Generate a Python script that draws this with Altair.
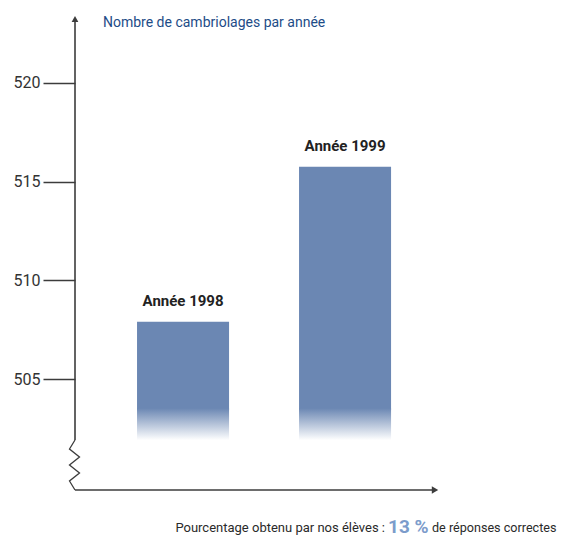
import altair as alt
import pandas as pd

# ---- data ----
years = ["Année 1998", "Année 1999"]
burglaries = [507.9, 515.75]
tick_values = [505, 510, 515, 520]
y_title = ["Nombre de cambriolages par année"]
caption_left = ["Pourcentage obtenu par nos élèves :"]
caption_pct = ["13 %"]
caption_right = ["de réponses correctes"]

# ---- layout / style constants ----
Y_MIN, Y_MAX = 499.39, 523.43
AXIS_TOP = 523.28
FADE_TOP, FADE_END = 503.53, 501.91
BREAK_TOP = 501.92
W, H = 365, 475
FONT = "Roboto"
BAR = "#6b87b3"
AXIS = "#3c3c3c"

# zig-zag break (pixel x offsets from the axis, y in data units)
zig_x = [0, -5.5, 4.5, -5.5, 4.5, -5.5, 0]
zig_y = [501.92, 501.465, 501.06, 500.655, 500.25, 499.845, Y_MIN]

df = pd.DataFrame({"year": years, "value": burglaries})

yscale = alt.Scale(domain=[Y_MIN, Y_MAX], zero=False, nice=False)
xscale = alt.Scale(domain=years, paddingInner=0.432, paddingOuter=0.3425, align=0.559)
xenc = alt.X("year:N", scale=xscale, axis=None)

solid = alt.Chart(df).mark_bar(color=BAR).encode(
    x=xenc,
    y=alt.Y(
        "value:Q",
        scale=yscale,
        axis=alt.Axis(
            values=tick_values, domain=False, grid=False, ticks=True,
            tickSize=32, tickColor=AXIS, tickWidth=1.5, labelPadding=3,
            labelFont=FONT, labelFontSize=16, labelColor="#333333", title=None,
        ),
    ),
    y2=alt.datum(FADE_TOP - 0.1),
)

fade = alt.Chart(df).mark_bar(
    color=alt.Gradient(
        gradient="linear",
        stops=[
            alt.GradientStop(color=BAR, offset=0),
            alt.GradientStop(color="#ffffff", offset=1),
        ],
        x1=0, x2=0, y1=0, y2=1,
    )
).encode(
    x=xenc,
    y=alt.datum(FADE_TOP),
    y2=alt.datum(FADE_END),
)

labels = alt.Chart(df).mark_text(
    font=FONT, fontSize=15, fontWeight="bold", dy=-21, color="#222222", baseline="middle"
).encode(x=xenc, y="value:Q", text="year:N")

one = pd.DataFrame({"k": [0]})

vline = alt.Chart(one).mark_rule(color=AXIS, strokeWidth=1.6).encode(
    x=alt.value(0), y=alt.datum(AXIS_TOP), y2=alt.datum(BREAK_TOP)
)
top_arrow = alt.Chart(one).mark_point(
    shape="triangle-up", filled=True, color=AXIS, size=45, opacity=1
).encode(x=alt.value(0), y=alt.value(4))

zig = alt.Chart(pd.DataFrame({"zx": zig_x, "zy": zig_y, "o": range(len(zig_x))})).mark_line(
    color=AXIS, strokeWidth=1.3
).encode(
    x=alt.X("zx:Q", scale=None),
    y=alt.Y("zy:Q"),
    order="o:Q",
)

hline = alt.Chart(one).mark_rule(color=AXIS, strokeWidth=1.6).encode(
    x=alt.value(0), x2=alt.value(W - 6), y=alt.datum(Y_MIN)
)
right_arrow = alt.Chart(one).mark_point(
    shape="triangle-right", filled=True, color=AXIS, size=55, opacity=1
).encode(x=alt.value(W - 5), y=alt.datum(Y_MIN))

title = alt.Chart(pd.DataFrame({"t": y_title})).mark_text(
    font=FONT, fontSize=14, color="#1d4c87", align="left", baseline="middle"
).encode(text="t:N", x=alt.value(28), y=alt.value(8))

cap1 = alt.Chart(pd.DataFrame({"t": caption_left})).mark_text(
    font=FONT, fontSize=13, color="#2a2a2a", align="right", baseline="middle"
).encode(text="t:N", x=alt.value(310), y=alt.value(513))
cap2 = alt.Chart(pd.DataFrame({"t": caption_pct})).mark_text(
    font=FONT, fontSize=19, fontWeight="bold", color="#7c9ccb", align="left", baseline="middle"
).encode(text="t:N", x=alt.value(313), y=alt.value(512))
cap3 = alt.Chart(pd.DataFrame({"t": caption_right})).mark_text(
    font=FONT, fontSize=12.6, color="#2a2a2a", align="left", baseline="middle"
).encode(text="t:N", x=alt.value(357), y=alt.value(513))

chart = alt.layer(
    solid, fade, labels, vline, top_arrow, zig, hline, right_arrow, title, cap1, cap2, cap3
).properties(
    width=W, height=H,
    padding={"left": 67, "top": 7, "right": 117, "bottom": 48},
    autosize="none",
).configure_view(stroke=None)

chart.save("out.html", embed_options={"renderer": "svg", "actions": False})
